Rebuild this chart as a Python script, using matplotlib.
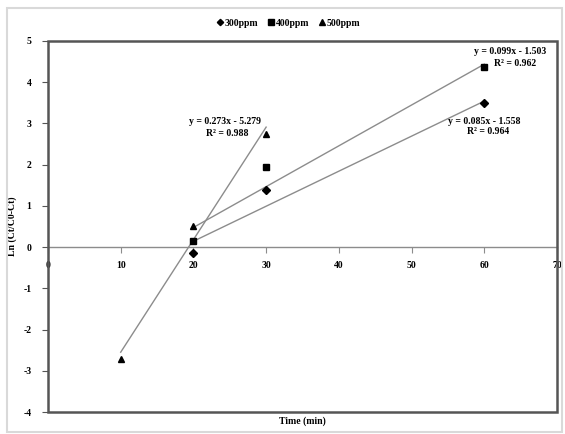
import matplotlib
matplotlib.use("Agg")
import matplotlib.pyplot as plt
from matplotlib.patches import Rectangle
import numpy as np

# Data
x300 = [20, 30, 60]
y300 = [-0.15, 1.38, 3.50]
x400 = [20, 30, 60]
y400 = [0.15, 1.95, 4.37]
x500 = [10, 20, 30]
y500 = [-2.72, 0.52, 2.75]

# Trendline coefficients (slope, intercept) as printed
fit300 = (0.085, -1.558)
fit400 = (0.099, -1.503)
fit500 = (0.273, -5.279)
r2_300, r2_400, r2_500 = 0.964, 0.962, 0.988

xticks = [0, 10, 20, 30, 40, 50, 60, 70]
yticks = [-4, -3, -2, -1, 0, 1, 2, 3, 4, 5]

plt.rcParams['font.family'] = ['Liberation Serif', 'DejaVu Serif']

fig = plt.figure(figsize=(5.65, 4.34), dpi=100)
# outer light border
fig.patches.append(Rectangle((7/565, 2/434), 555/565, 424/434, transform=fig.transFigure,
                             fill=False, edgecolor='#d9d9d9', lw=1.5))
ax = fig.add_axes([48/565, 1 - 412/434, (557 - 48)/565, (412 - 41)/434])

line_kw = dict(color='#8c8c8c', lw=1.0, zorder=2)
for xs, (m, b) in [(x300, fit300), (x400, fit400), (x500, fit500)]:
    xx = np.array([min(xs), max(xs)])
    ax.plot(xx, m * xx + b, **line_kw)

ax.plot(x300, y300, 'D', color='black', ms=4, label='300ppm', zorder=3, ls='none')
ax.plot(x400, y400, 's', color='black', ms=5, label='400ppm', zorder=3, ls='none')
ax.plot(x500, y500, '^', color='black', ms=5, label='500ppm', zorder=3, ls='none')

for s in ['top', 'right', 'left']:
    ax.spines[s].set_visible(False)
ax.spines['bottom'].set_position(('data', 0))
ax.spines['bottom'].set_color('#8c8c8c')
ax.spines['bottom'].set_linewidth(1.0)
ax.add_patch(Rectangle((0, 0), 1, 1, transform=ax.transAxes, fill=False,
                       edgecolor='#555555', lw=1.8, clip_on=False, zorder=5))

ax.set_xlim(0, 70)
ax.set_ylim(-4, 5)
ax.set_xticks(xticks)
ax.set_yticks(yticks)
ax.set_xticklabels([str(t) for t in xticks], fontsize=7, fontweight='bold')
ax.set_yticklabels([str(t) for t in yticks], fontsize=7, fontweight='bold')
ax.tick_params(axis='x', direction='out', length=4, color='#8c8c8c', pad=6)
ax.tick_params(axis='y', direction='out', length=4, color='#555555', pad=8)

ax.set_ylabel('Ln (Ct/C0-Ct)', fontsize=7, fontweight='bold')
ax.yaxis.set_label_coords(-0.061, 0.5)
ax.set_xlabel('Time (min)', fontsize=7, fontweight='bold')
ax.xaxis.set_label_coords(0.5, -0.012)

def ann(x, y, s):
    fig.text(x / 565, 1 - y / 434, s, fontsize=7, fontweight='bold', ha='center', va='center')

ann(225, 122, f'y = {fit500[0]}x - {abs(fit500[1])}')
ann(227, 133, f'R² = {r2_500}')
ann(510, 52, f'y = {fit400[0]}x - {abs(fit400[1])}')
ann(515, 63, f'R² = {r2_400}')
ann(484, 121, f'y = {fit300[0]}x - {abs(fit300[1])}')
ann(488, 132, f'R² = {r2_300}')

leg = fig.legend(loc='center', bbox_to_anchor=(288/565, 1 - 23/434), ncol=3, frameon=False,
                 handletextpad=0.0, columnspacing=0.9, handlelength=0.9, markerscale=0.8,
                 prop={'weight': 'bold', 'size': 7})

fig.savefig('out.png', dpi=100)
